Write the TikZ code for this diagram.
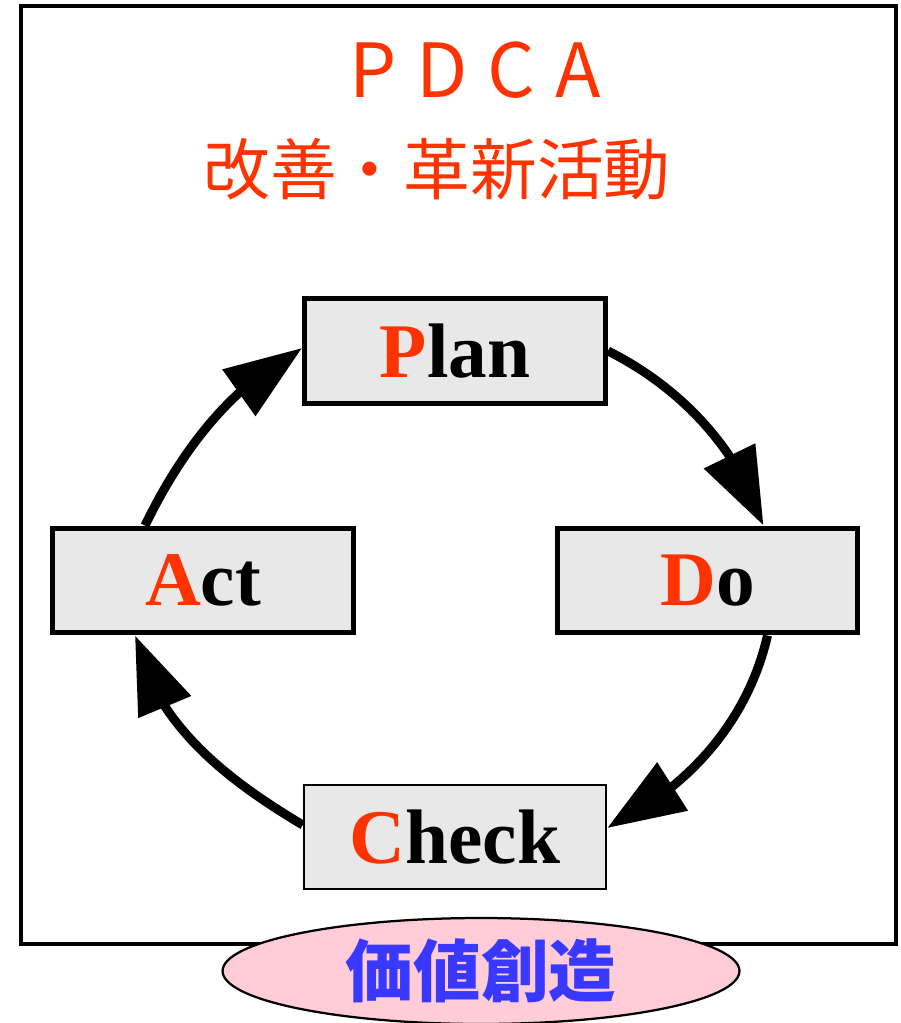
\documentclass[tikz,border=0pt]{standalone}
\usepackage{fontspec}
\setmainfont{Liberation Serif}
\newfontfamily\jp{Noto Sans CJK JP}
\usetikzlibrary{arrows.meta,bending,calc,shapes.geometric}
\definecolor{pdred}{HTML}{FF3300}
\definecolor{boxgray}{HTML}{E8E8E8}
\definecolor{pinkfill}{HTML}{FFCCD7}
\definecolor{valblue}{HTML}{3838FF}
\begin{document}
\begin{tikzpicture}[x=0.02cm,y=-0.02cm,
  stage/.style={draw=black, line width=0.1cm, fill=boxgray, minimum width=6.02cm,
    minimum height=2.1cm, inner sep=0pt, font=\fontsize{44}{48}\selectfont\bfseries},
  cyclearrow/.style={line width=0.18cm, -{Triangle[length=1.55cm,width=1.1cm,flex]}},
  redtext/.style={text=pdred, inner sep=0pt}]
\useasboundingbox (0,0) rectangle (901,1023);
\fill[white] (0,0) rectangle (901,1023);
\draw[line width=0.08cm] (21,6) rectangle (896,944);

\node[redtext, font=\jp\fontsize{42.5}{45}\selectfont] (title) at (475,70)
  {P\hspace{0.4cm}D\hspace{0.4cm}C\hspace{0.4cm}A};
\node[redtext, font=\jp\fontsize{38}{40}\selectfont] (sub) at (437,169) {改善・革新活動};

\node[stage] (plan) at (455,351) {\textcolor{pdred}{P}lan};
\node[stage] (act) at (203,580.5) {\textcolor{pdred}{A}ct};
\node[stage] (do) at (707.5,580.5) {\textcolor{pdred}{D}o};
\node[stage, line width=0.05cm, minimum width=6.04cm, minimum height=2.08cm] (check) at (455,837) {\textcolor{pdred}{C}heck};

\draw[cyclearrow] (plan.east) .. controls +(72,36) and +(-25,-77) .. ($(do.north)+(56,0)$);
\draw[cyclearrow] ($(do.south)+(60,0)$) .. controls +(-20,87) and +(80,-39) .. ($(check.east)+(0,-9)$);
\draw[cyclearrow] ($(check.west)+(0,-12)$) .. controls +(-77,-46) and +(19,88) .. ($(act.south)+(-68,0)$);
\draw[cyclearrow] ($(act.north)+(-58,0)$) .. controls +(36,-74) and +(-72,38) .. ($(plan.west)+(0,-3)$);

\node[ellipse, draw, line width=0.045cm, fill=pinkfill, minimum width=10.34cm,
  minimum height=2.12cm, inner sep=0pt, text=valblue,
  font=\jp\bfseries\fontsize{38.5}{40}\selectfont] (value) at (481,971) {価値創造};
\end{tikzpicture}
\end{document}
